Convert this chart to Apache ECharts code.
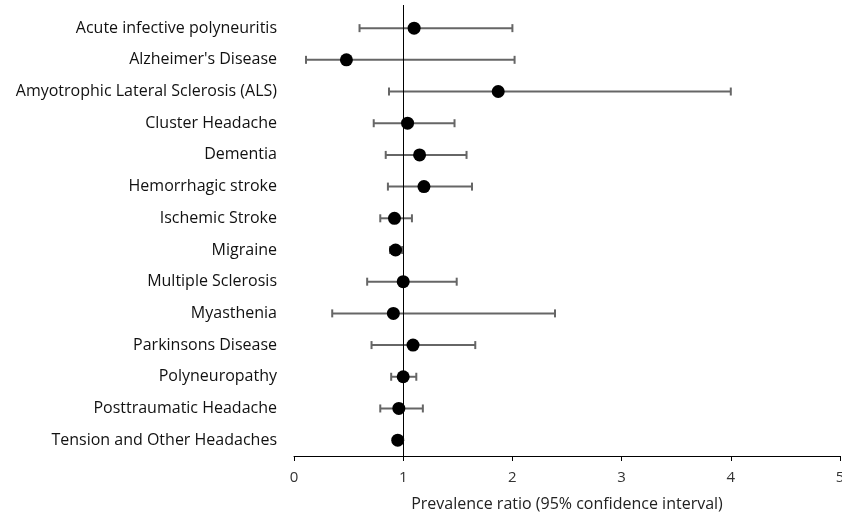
<!DOCTYPE html>
<html>
<head>
<meta charset="utf-8">
<script src="https://cdn.jsdelivr.net/npm/echarts@6/dist/echarts.min.js"></script>
<style>
  html, body { margin: 0; padding: 0; background: #fff; }
  #chart { width: 842px; height: 518px; }
</style>
</head>
<body>
<div id="chart"></div>
<script>
// Conditions, top to bottom
const categories = [
  'Acute infective polyneuritis',
  "Alzheimer's Disease",
  'Amyotrophic Lateral Sclerosis (ALS)',
  'Cluster Headache',
  'Dementia',
  'Hemorrhagic stroke',
  'Ischemic Stroke',
  'Migraine',
  'Multiple Sclerosis',
  'Myasthenia',
  'Parkinsons Disease',
  'Polyneuropathy',
  'Posttraumatic Headache',
  'Tension and Other Headaches'
];
// Prevalence ratio point estimates
const ratio = [1.10, 0.48, 1.87, 1.04, 1.15, 1.19, 0.92, 0.93, 1.00, 0.91, 1.09, 1.00, 0.96, 0.95];
// 95% confidence interval bounds
const lower = [0.60, 0.11, 0.87, 0.73, 0.84, 0.86, 0.79, 0.88, 0.67, 0.35, 0.71, 0.89, 0.79, 0.93];
const upper = [2.00, 2.02, 4.00, 1.47, 1.58, 1.63, 1.08, 0.99, 1.49, 2.39, 1.66, 1.12, 1.18, 0.98];
// x-axis ticks
const xTicks = [0, 1, 2, 3, 4, 5];

const rowIdx = categories.map((_, i) => i);
const FONT = "'Open Sans', 'Liberation Sans', sans-serif";

const chart = echarts.init(document.getElementById('chart'), null, { renderer: 'canvas' });

const option = {
  animation: false,
  backgroundColor: '#ffffff',
  grid: { left: 294, right: 2, top: 5, bottom: 62, containLabel: false, outerBoundsMode: 'none' },
  xAxis: {
    type: 'value',
    position: 'bottom',
    min: xTicks[0],
    max: xTicks[xTicks.length - 1],
    interval: 1,
    name: 'Prevalence ratio (95% confidence interval)',
    nameLocation: 'middle',
    nameGap: 40,
    nameTextStyle: { fontFamily: FONT, fontSize: 16, color: '#222' },
    axisLine: { show: true, onZero: false, lineStyle: { color: '#000', width: 1 } },
    axisTick: { show: true, length: 5, inside: false, lineStyle: { color: '#000', width: 1 } },
    axisLabel: { fontFamily: FONT, fontSize: 15, color: '#333', margin: 14 },
    splitLine: { show: false }
  },
  yAxis: {
    type: 'value',
    inverse: true,
    min: -0.73,
    max: 13.5,
    axisLine: { show: false },
    axisTick: { show: false },
    splitLine: { show: false },
    axisLabel: {
      customValues: rowIdx,
      formatter: v => categories[Math.round(v)] || '',
      fontFamily: FONT,
      fontSize: 16,
      color: '#111',
      margin: 17
    }
  },
  series: [
    {
      // confidence interval whiskers with end caps
      type: 'custom',
      data: rowIdx.map(i => [lower[i], upper[i], i]),
      renderItem: function (params, api) {
        const y = api.value(2);
        const p0 = api.coord([api.value(0), y]);
        const p1 = api.coord([api.value(1), y]);
        const cap = 4;
        const style = { stroke: '#666666', lineWidth: 2, fill: null };
        return {
          type: 'group',
          children: [
            { type: 'line', shape: { x1: p0[0], y1: p0[1], x2: p1[0], y2: p1[1] }, style: style },
            { type: 'line', shape: { x1: p0[0], y1: p0[1] - cap, x2: p0[0], y2: p0[1] + cap }, style: style },
            { type: 'line', shape: { x1: p1[0], y1: p1[1] - cap, x2: p1[0], y2: p1[1] + cap }, style: style }
          ]
        };
      },
      z: 2
    },
    {
      // reference line at ratio = 1
      type: 'line',
      data: [],
      markLine: {
        silent: true,
        symbol: 'none',
        label: { show: false },
        lineStyle: { color: '#000', width: 1, type: 'solid' },
        data: [{ xAxis: 1 }]
      },
      z: 3
    },
    {
      type: 'scatter',
      data: rowIdx.map(i => [ratio[i], i]),
      symbol: 'circle',
      symbolSize: 13,
      itemStyle: { color: '#000', opacity: 1 },
      z: 4
    }
  ]
};

chart.setOption(option);
</script>
</body>
</html>
